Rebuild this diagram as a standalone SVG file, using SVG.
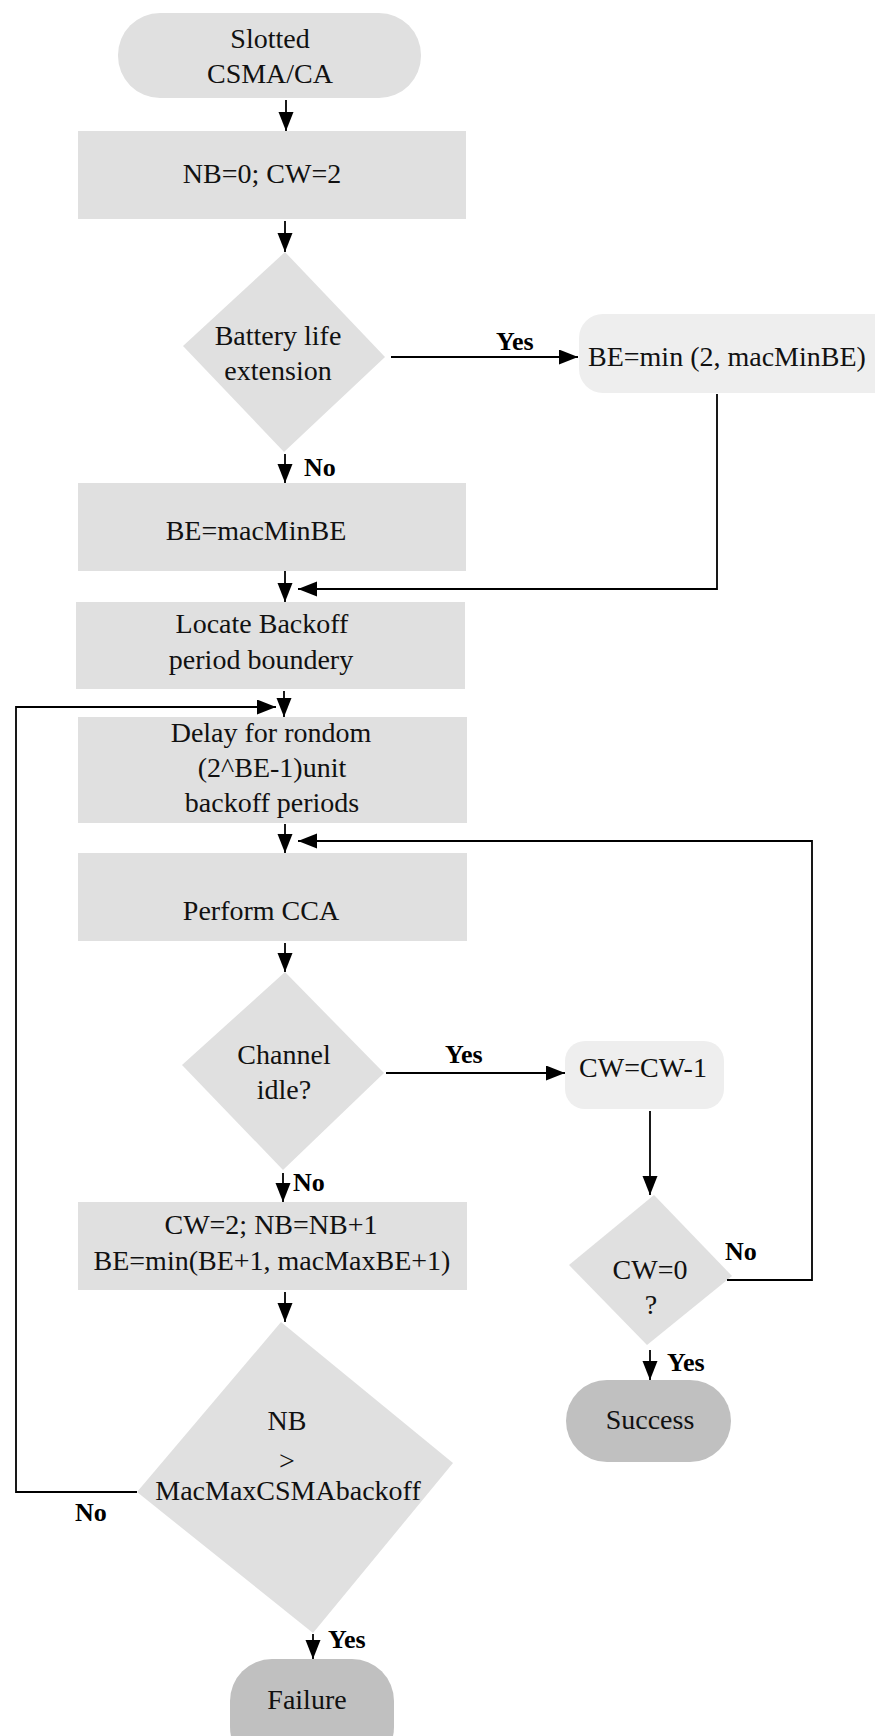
<svg xmlns="http://www.w3.org/2000/svg" width="875" height="1736" viewBox="0 0 875 1736">
<style>
.n{fill:#e0e0e0;stroke:none}
.l{fill:#eeeeee;stroke:none}
.d{fill:#c0c0c0;stroke:none}
.t{font-family:"Liberation Serif","Times New Roman",serif;font-size:28px;fill:#111;text-anchor:middle}
.lb{font-family:"Liberation Serif","Times New Roman",serif;font-size:26px;font-weight:bold;fill:#000}
.c{fill:none;stroke:#000;stroke-width:1.8}
</style>
<defs>
<marker id="ah" markerUnits="userSpaceOnUse" markerWidth="20" markerHeight="16" refX="19" refY="7.5" orient="auto">
<path d="M0,0 L19,7.5 L0,15 z" fill="#000"/>
</marker>
</defs>
<rect width="875" height="1736" fill="#fff"/>
<g id="start">
<rect class="n" x="118" y="13" width="303" height="85" rx="42" ry="42"/>
<text class="t" x="270" y="48">Slotted</text>
<text class="t" x="270" y="83">CSMA/CA</text>
</g>
<g id="init">
<rect class="n" x="78" y="131" width="388" height="88"/>
<text class="t" x="262" y="183">NB=0; CW=2</text>
</g>
<g id="battery">
<polygon class="n" points="285,252 385,357 284,452 183,346"/>
<text class="t" x="278" y="345">Battery life</text>
<text class="t" x="278" y="380">extension</text>
</g>
<g id="bemin2">
<rect class="l" x="579" y="314" width="320" height="79" rx="24" ry="24"/>
<text class="t" x="588" y="366" style="text-anchor:start">BE=min (2, macMinBE)</text>
</g>
<g id="bemin">
<rect class="n" x="78" y="483" width="388" height="88"/>
<text class="t" x="256" y="540">BE=macMinBE</text>
</g>
<g id="locate">
<rect class="n" x="76" y="602" width="389" height="87"/>
<text class="t" x="262" y="633">Locate Backoff</text>
<text class="t" x="261" y="669">period boundery</text>
</g>
<g id="delay">
<rect class="n" x="78" y="717" width="389" height="106"/>
<text class="t" x="271" y="742">Delay for rondom</text>
<text class="t" x="272" y="777">(2^BE-1)unit</text>
<text class="t" x="272" y="812">backoff periods</text>
</g>
<g id="cca">
<rect class="n" x="78" y="853" width="389" height="88"/>
<text class="t" x="261" y="920">Perform CCA</text>
</g>
<g id="idle">
<polygon class="n" points="285,972 384,1073 283,1170 182,1065"/>
<text class="t" x="284" y="1064">Channel</text>
<text class="t" x="284" y="1099">idle?</text>
</g>
<g id="cwdec">
<rect class="l" x="565" y="1041" width="159" height="68" rx="20" ry="20"/>
<text class="t" x="643" y="1077">CW=CW-1</text>
</g>
<g id="cwzero">
<polygon class="n" points="654,1195 732,1276 647,1345 569,1265"/>
<text class="t" x="650" y="1279">CW=0</text>
<text class="t" x="651" y="1314">?</text>
</g>
<g id="success">
<rect class="d" x="566" y="1380" width="165" height="82" rx="41" ry="41"/>
<text class="t" x="650" y="1429">Success</text>
</g>
<g id="update">
<rect class="n" x="78" y="1202" width="389" height="88"/>
<text class="t" x="271" y="1234">CW=2; NB=NB+1</text>
<text class="t" x="272" y="1270">BE=min(BE+1, macMaxBE+1)</text>
</g>
<g id="nbcheck">
<polygon class="n" points="281,1322 453,1463 313,1633 137,1492"/>
<text class="t" x="287" y="1430">NB</text>
<text class="t" x="287" y="1470">&gt;</text>
<text class="t" x="288" y="1500">MacMaxCSMAbackoff</text>
</g>
<g id="failure">
<rect class="d" x="230" y="1659" width="164" height="110" rx="42" ry="42"/>
<text class="t" x="307" y="1709">Failure</text>
</g>
<g id="connectors">
<path class="c" d="M286,100 L286,131" marker-end="url(#ah)"/>
<path class="c" d="M285,221 L285,252" marker-end="url(#ah)"/>
<path class="c" d="M391,357 L578,357" marker-end="url(#ah)"/>
<path class="c" d="M717,394 L717,589 L298,589" marker-end="url(#ah)"/>
<path class="c" d="M285,454 L285,483" marker-end="url(#ah)"/>
<path class="c" d="M285,571 L285,602" marker-end="url(#ah)"/>
<path class="c" d="M284,691 L284,717" marker-end="url(#ah)"/>
<path class="c" d="M137,1492 L16,1492 L16,707 L276,707" marker-end="url(#ah)"/>
<path class="c" d="M285,824 L285,853" marker-end="url(#ah)"/>
<path class="c" d="M727,1280 L812,1280 L812,841 L298,841" marker-end="url(#ah)"/>
<path class="c" d="M285,943 L285,972" marker-end="url(#ah)"/>
<path class="c" d="M386,1073 L565,1073" marker-end="url(#ah)"/>
<path class="c" d="M650,1111 L650,1195" marker-end="url(#ah)"/>
<path class="c" d="M650,1350 L650,1380" marker-end="url(#ah)"/>
<path class="c" d="M283,1173 L283,1202" marker-end="url(#ah)"/>
<path class="c" d="M285,1292 L285,1322" marker-end="url(#ah)"/>
<path class="c" d="M313,1634 L313,1659" marker-end="url(#ah)"/>
<text class="lb" x="496" y="350">Yes</text>
<text class="lb" x="304" y="476">No</text>
<text class="lb" x="445" y="1063">Yes</text>
<text class="lb" x="725" y="1260">No</text>
<text class="lb" x="667" y="1371">Yes</text>
<text class="lb" x="293" y="1191">No</text>
<text class="lb" x="75" y="1521">No</text>
<text class="lb" x="328" y="1648">Yes</text>
</g>
</svg>
